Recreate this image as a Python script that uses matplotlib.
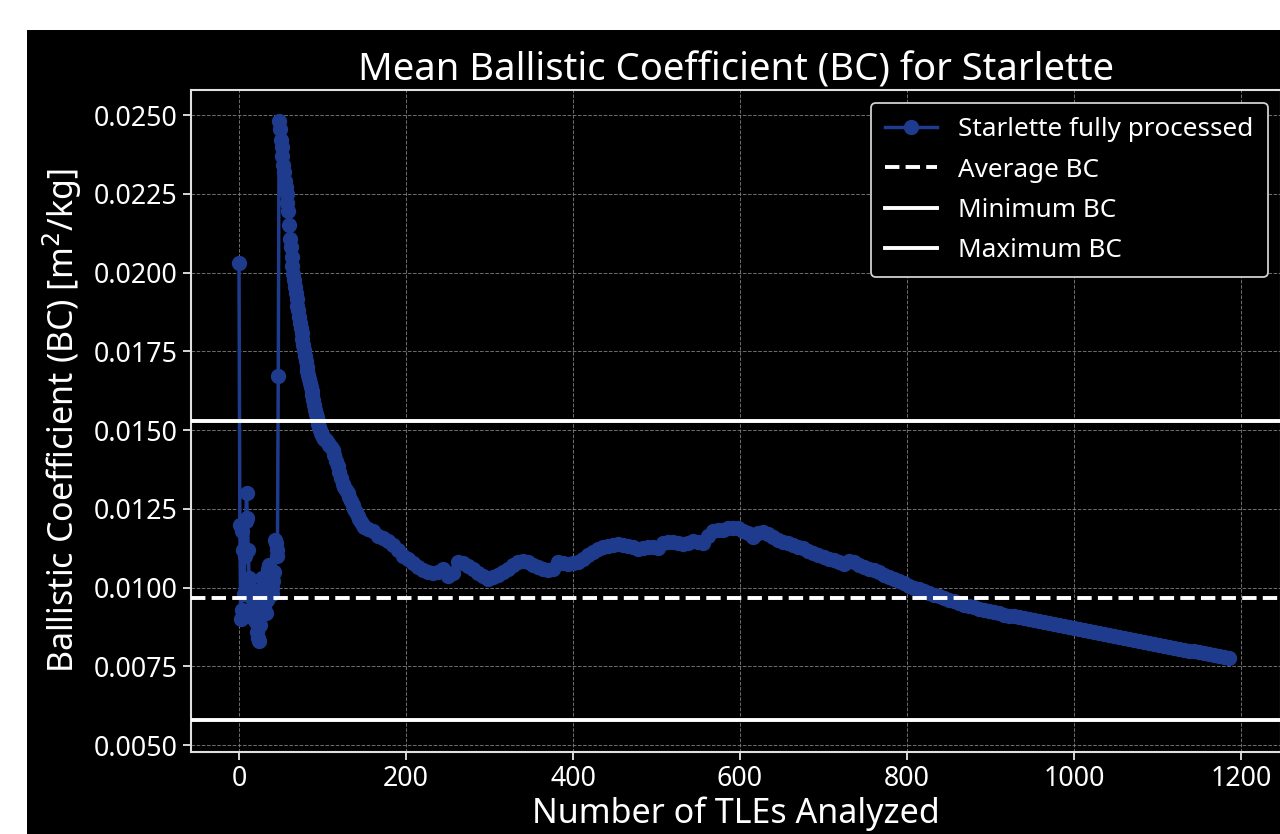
import matplotlib
matplotlib.use("Agg")
import matplotlib.pyplot as plt
from matplotlib.patches import Rectangle
from matplotlib.ticker import FormatStrFormatter

# ---------------- data ----------------
tle_early = list(range(0, 48))
bc_early = [0.0203, 0.0120, 0.0090, 0.0093, 0.0118, 0.0112, 0.0098, 0.0110,
            0.0121, 0.0130, 0.0122, 0.0112, 0.0103, 0.0100, 0.0097, 0.0098,
            0.0093, 0.0096, 0.0090, 0.0092, 0.0089, 0.0091, 0.0086, 0.0084,
            0.0083, 0.0088, 0.0094, 0.0100, 0.0103, 0.0097, 0.0094, 0.0099,
            0.0092, 0.0096, 0.0101, 0.0106, 0.0107, 0.0104, 0.0102, 0.0100,
            0.0098, 0.0102, 0.0105, 0.0115, 0.0114, 0.0112, 0.0110, 0.0167]

tle_decay = list(range(48, 101))
bc_decay = [0.02480, 0.02455, 0.02420, 0.02400, 0.02370, 0.02340, 0.02320, 0.02290,
            0.02270, 0.02250, 0.02220, 0.02195, 0.02150, 0.02105, 0.02080, 0.02050,
            0.02020, 0.01995, 0.01975, 0.01955, 0.01935, 0.01915, 0.01895, 0.01880,
            0.01860, 0.01840, 0.01825, 0.01807, 0.01790, 0.01770, 0.01755, 0.01735,
            0.01718, 0.01700, 0.01688, 0.01675, 0.01662, 0.01650, 0.01638, 0.01625,
            0.01610, 0.01595, 0.01580, 0.01565, 0.01552, 0.01540, 0.01528, 0.01518,
            0.01508, 0.01500, 0.01492, 0.01485, 0.01478]

tle_mid = list(range(102, 151, 2))
bc_mid = [0.01472, 0.01467, 0.01460, 0.01452, 0.01445, 0.01435, 0.01420, 0.01402,
          0.01385, 0.01367, 0.01348, 0.01330, 0.01320, 0.01310, 0.01300, 0.01288,
          0.01275, 0.01262, 0.01250, 0.01239, 0.01228, 0.01218, 0.01208, 0.01198,
          0.01192]

tle_late = list(range(154, 1187, 6))
bc_late = [0.01185, 0.01178, 0.01165, 0.01158, 0.01148, 0.01135, 0.01118, 0.01100,
           0.01090, 0.01078, 0.01065, 0.01055, 0.01048, 0.01045, 0.01048, 0.01058,
           0.01038, 0.01045, 0.01080, 0.01078, 0.01068, 0.01058, 0.01046, 0.01035,
           0.01028, 0.01032, 0.01040, 0.01048, 0.01060, 0.01072, 0.01082, 0.01085,
           0.01080, 0.01073, 0.01066, 0.01060, 0.01055, 0.01060, 0.01080, 0.01078,
           0.01075, 0.01078, 0.01082, 0.01092, 0.01102, 0.01112, 0.01122, 0.01128,
           0.01132, 0.01135, 0.01138, 0.01135, 0.01133, 0.01128, 0.01122, 0.01125,
           0.01130, 0.01128, 0.01125, 0.01140, 0.01145, 0.01143, 0.01140, 0.01138,
           0.01142, 0.01148, 0.01145, 0.01140, 0.01165, 0.01180, 0.01182, 0.01183,
           0.01188, 0.01190, 0.01188, 0.01180, 0.01172, 0.01160, 0.01172, 0.01176,
           0.01170, 0.01160, 0.01152, 0.01146, 0.01140, 0.01136, 0.01130, 0.01124,
           0.01117, 0.01110, 0.01103, 0.01097, 0.01092, 0.01086, 0.01080, 0.01075,
           0.01085, 0.01080, 0.01073, 0.01066, 0.01060, 0.01054, 0.01048, 0.01040,
           0.01034, 0.01027, 0.01020, 0.01013, 0.01006, 0.01000, 0.00994, 0.00988,
           0.00982, 0.00977, 0.00972, 0.00966, 0.00960, 0.00956, 0.00951, 0.00946,
           0.00942, 0.00937, 0.00933, 0.00929, 0.00925, 0.00922, 0.00918, 0.00914,
           0.00911, 0.00908, 0.00905, 0.00902, 0.00899, 0.00896, 0.00893, 0.00890,
           0.00886, 0.00883, 0.00880, 0.00877, 0.00874, 0.00871, 0.00868, 0.00865,
           0.00862, 0.00859, 0.00855, 0.00852, 0.00849, 0.00846, 0.00843, 0.00840,
           0.00837, 0.00834, 0.00830, 0.00827, 0.00824, 0.00821, 0.00818, 0.00815,
           0.00812, 0.00809, 0.00806, 0.00803, 0.00800, 0.00797, 0.00794, 0.00791,
           0.00788, 0.00786, 0.00783, 0.00780, 0.00777]

avg_bc = 0.00966
min_bc = 0.00579
max_bc = 0.01530

x_ticks = [0, 200, 400, 600, 800, 1000, 1200]
y_ticks = [0.0050, 0.0075, 0.0100, 0.0125, 0.0150, 0.0175, 0.0200, 0.0225, 0.0250]

tles = tle_early + tle_decay + tle_mid + tle_late
bcs = bc_early + bc_decay + bc_mid + bc_late

# ---------------- figure ----------------
plt.rcParams['font.family'] = ['Noto Sans', 'DejaVu Sans']
W, H = 1280, 834
fig = plt.figure(figsize=(W / 100, H / 100), dpi=100, facecolor='white')
fig.patches.append(Rectangle((27 / W, 0), 1, (H - 30) / H, transform=fig.transFigure,
                             facecolor='black', edgecolor='none', zorder=-10))

ax = fig.add_axes([191 / W, (H - 752) / H, 1090 / W, 662 / H])
ax.set_facecolor('black')

blue = '#1f3b8e'
ax.plot(tles, bcs, '-o', color=blue, markersize=10, linewidth=2.5,
        label='Starlette fully processed', zorder=3)
ax.axhline(avg_bc, color='white', linestyle='--', linewidth=2.8, label='Average BC', zorder=4)
ax.axhline(min_bc, color='white', linestyle='-', linewidth=2.8, label='Minimum BC', zorder=4)
ax.axhline(max_bc, color='white', linestyle='-', linewidth=2.8, label='Maximum BC', zorder=4)

ax.set_xlim(-57.5, 1247.9)
ax.set_ylim(0.004778, 0.025794)
ax.set_xticks(x_ticks)
ax.set_yticks(y_ticks)
ax.yaxis.set_major_formatter(FormatStrFormatter('%.4f'))

ax.grid(True, color='#8a8a8a', linestyle='--', linewidth=0.7, alpha=0.8)
for s in ax.spines.values():
    s.set_color('#e0e0e0')
    s.set_linewidth(1.5)
ax.tick_params(colors='#e8e8e8', labelcolor='white', labelsize=19.3, length=6, width=1.3)

ax.set_title('Mean Ballistic Coefficient (BC) for Starlette', color='white', fontsize=27.5, pad=6)
ax.set_xlabel('Number of TLEs Analyzed', color='white', fontsize=24.5, labelpad=2)
ax.set_ylabel('Ballistic Coefficient (BC) [m$^2$/kg]', color='white', fontsize=24.5, labelpad=7)

leg = ax.legend(loc='upper right', fontsize=18.8, facecolor='black', edgecolor='#d0d0d0',
                framealpha=1.0, labelcolor='white', handlelength=2.0,
                labelspacing=0.58, borderpad=0.55)
leg.get_frame().set_linewidth(1.3)

fig.savefig('out.png', dpi=100, facecolor=fig.get_facecolor())
